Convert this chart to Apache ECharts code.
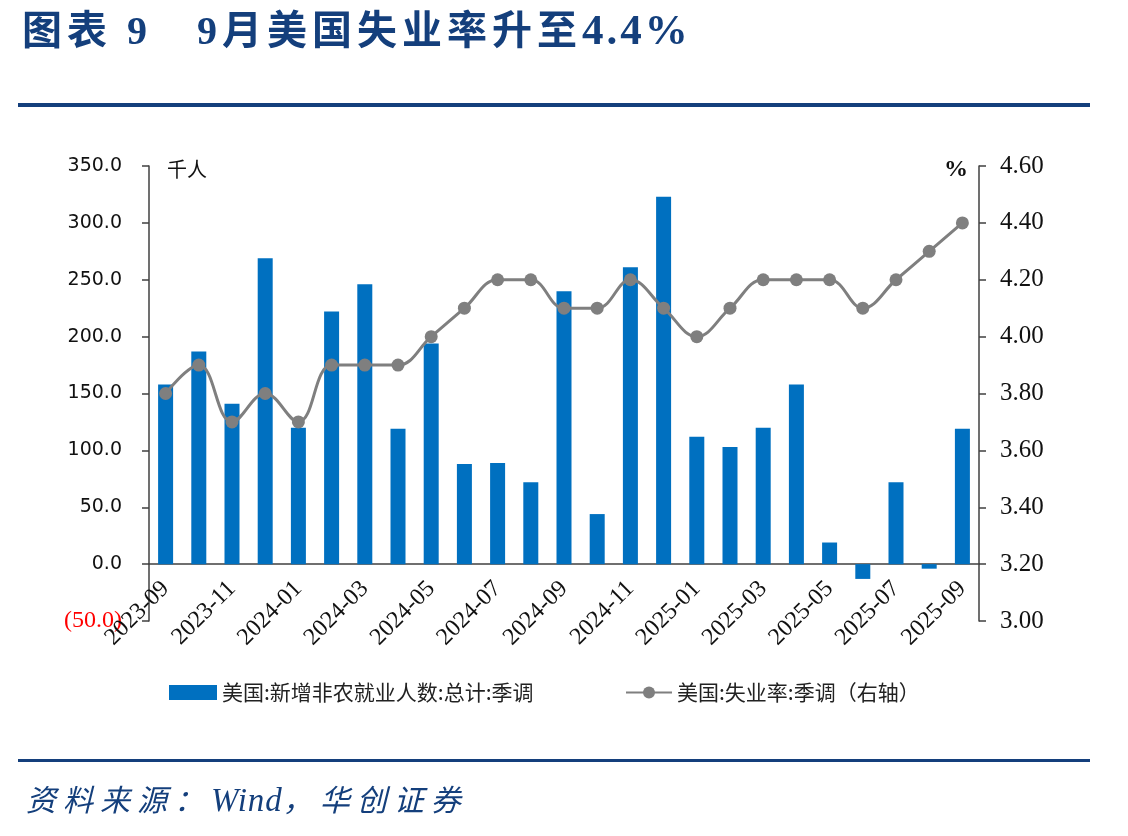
<!DOCTYPE html>
<html>
<head>
<meta charset="utf-8">
<title>9月美国失业率升至4.4%</title>
<script src="https://cdn.jsdelivr.net/npm/echarts@6/dist/echarts.min.js"></script>
<style>
  html, body { margin: 0; padding: 0; background: #fff; }
  #wrap { position: relative; width: 1128px; height: 836px; }
  #main { position: absolute; left: 0; top: 0; width: 1128px; height: 836px; }
  .title {
    position: absolute; left: 22px; top: -2px; white-space: pre;
    font: bold 40px "Liberation Serif", "Noto Sans CJK SC";
    letter-spacing: 5px; color: #143f7c;
  }
  .title .num { letter-spacing: 3px; font-size: 43px; }
  .source {
    position: absolute; left: 26px; top: 776px; white-space: pre;
    font: italic 30px "Liberation Serif", "Noto Sans CJK SC";
    letter-spacing: 7px; color: #143f7c;
  }
  .source .en { letter-spacing: 1px; font-size: 33px; }
</style>
</head>
<body>
<div id="wrap">
  <div id="main"></div>
  <div class="title">图表 9   9月美国失业率升至<span class="num">4.4%</span></div>
  <div class="source">资料来源：<span class="en">Wind</span>，华创证券</div>
</div>
<script>
// 月份
var months = ['2023-09', '2023-10', '2023-11', '2023-12', '2024-01', '2024-02', '2024-03', '2024-04', '2024-05',
  '2024-06', '2024-07', '2024-08', '2024-09', '2024-10', '2024-11', '2024-12', '2025-01', '2025-02', '2025-03',
  '2025-04', '2025-05', '2025-06', '2025-07', '2025-08', '2025-09'];
// 新增非农就业人数(千人)
var payrolls = [158, 187, 141, 269, 120, 222, 246, 119, 194, 88, 89, 72, 240, 44, 261, 323, 112, 103, 120, 158, 19, -13, 72, -4, 119];
// 失业率(%)
var unemployment = [3.8, 3.9, 3.7, 3.8, 3.7, 3.9, 3.9, 3.9, 4.0, 4.1, 4.2, 4.2, 4.1, 4.1, 4.2, 4.1, 4.0, 4.1, 4.2, 4.2, 4.2, 4.1, 4.2, 4.3, 4.4];

var barName = '美国:新增非农就业人数:总计:季调';
var lineName = '美国:失业率:季调（右轴）';

var myChart = echarts.init(document.getElementById('main'));

var titleBlue = '#143f7c';
var axisColor = '#404040';

var option = {
  backgroundColor: 'transparent',
  animation: false,
  graphic: [
    { type: 'rect', shape: { x: 18, y: 103, width: 1072, height: 4 }, style: { fill: titleBlue } },
    { type: 'rect', shape: { x: 18, y: 759, width: 1072, height: 3 }, style: { fill: titleBlue } },
    {
      type: 'text', left: 167, top: 159,
      style: { text: '千人', fill: '#111', font: '20px "Noto Sans CJK SC"' }
    },
    {
      type: 'text', left: 944, top: 158,
      style: { text: '%', fill: '#111', font: 'bold 24px "Liberation Serif"' }
    }
  ],
  legend: [
    {
      data: [{ name: barName, icon: 'rect' }],
      left: 164, top: 677,
      itemWidth: 48, itemHeight: 15, itemGap: 6,
      textStyle: { fontFamily: 'Noto Sans CJK SC', fontSize: 21, color: '#222' }
    },
    {
      data: [lineName],
      left: 620, top: 677,
      itemWidth: 46, itemHeight: 15,
      textStyle: { fontFamily: 'Noto Sans CJK SC', fontSize: 21, color: '#222' }
    }
  ],
  grid: { left: 149, right: 149, top: 166, bottom: 215, containLabel: false },
  xAxis: {
    type: 'category',
    data: months,
    axisLine: { onZero: true, onZeroAxisIndex: 0, lineStyle: { color: axisColor, width: 1.5 } },
    axisTick: { interval: 1, length: 7, lineStyle: { color: axisColor, width: 1.5 } },
    axisLabel: {
      interval: 1, rotate: 45, margin: -36,
      color: '#111', fontFamily: 'Liberation Serif', fontSize: 24
    }
  },
  yAxis: [
    {
      type: 'value', min: -50, max: 350, interval: 50,
      axisLine: { show: true, lineStyle: { color: axisColor, width: 1.5 } },
      axisTick: { show: true, length: 7, lineStyle: { color: axisColor, width: 1.5 } },
      splitLine: { show: false },
      axisLabel: {
        margin: 27,
        color: '#111', fontFamily: 'DejaVu Sans', fontSize: 19,
        formatter: function (v) {
          return v < 0 ? '{neg|(' + Math.abs(v).toFixed(1) + ')}' : v.toFixed(1);
        },
        rich: { neg: { color: '#ff0000', fontFamily: 'Liberation Serif', fontSize: 24 } }
      }
    },
    {
      type: 'value', min: 3.0, max: 4.6, interval: 0.2,
      axisLine: { show: true, lineStyle: { color: axisColor, width: 1.5 } },
      axisTick: { show: true, length: 7, lineStyle: { color: axisColor, width: 1.5 } },
      splitLine: { show: false },
      axisLabel: {
        margin: 21,
        color: '#111', fontFamily: 'Liberation Serif', fontSize: 25,
        formatter: function (v) { return v.toFixed(2); }
      }
    }
  ],
  series: [
    {
      name: barName,
      type: 'bar',
      data: payrolls,
      barWidth: 15,
      itemStyle: { color: '#0070c0' }
    },
    {
      name: lineName,
      type: 'line',
      yAxisIndex: 1,
      data: unemployment,
      smooth: 0.4,
      symbol: 'circle',
      symbolSize: 13,
      lineStyle: { color: '#7f7f7f', width: 3 },
      itemStyle: { color: '#7f7f7f' }
    }
  ]
};

myChart.setOption(option);
</script>
</body>
</html>
